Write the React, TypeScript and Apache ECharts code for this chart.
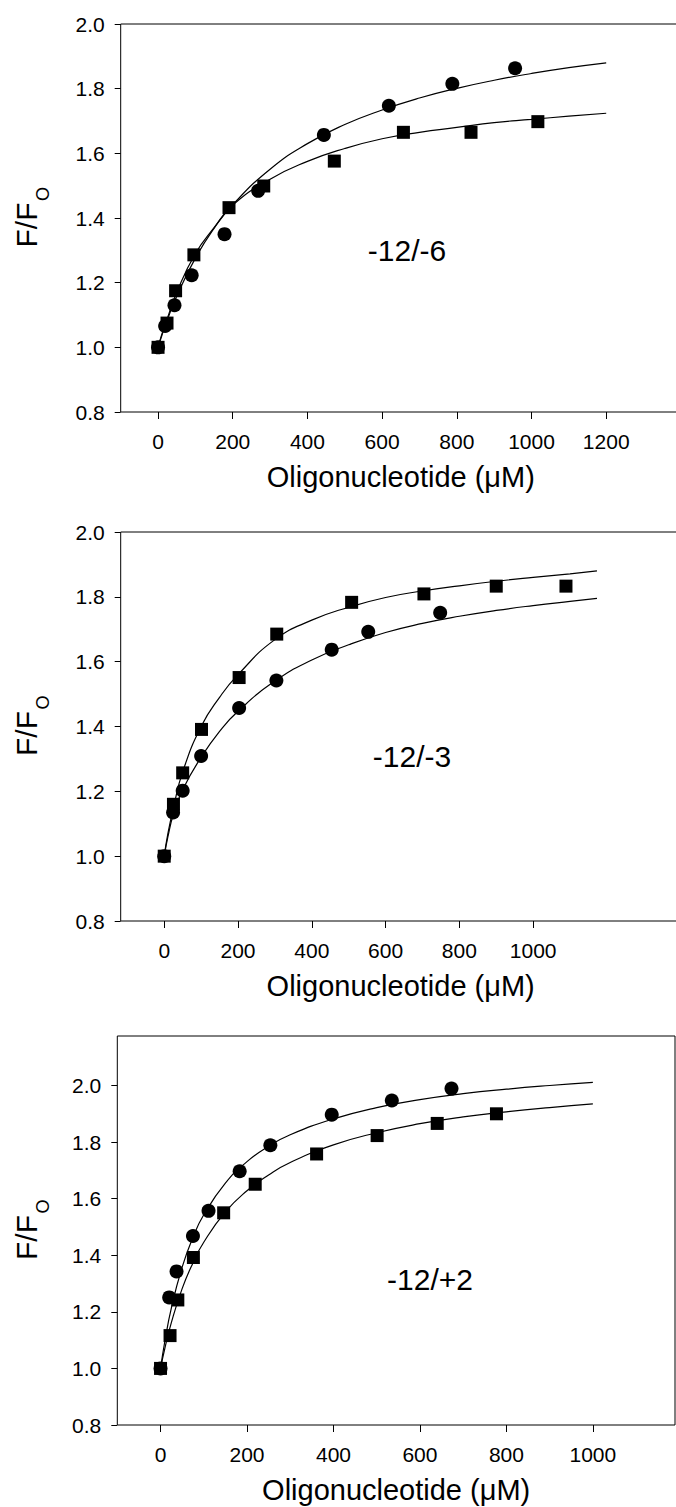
import React, { useEffect, useRef } from "react";
import * as echarts from "echarts";

// ---------- Panel 1 (-12/-6) ----------
const p1CircleX = [0, 19, 44, 90, 178, 268, 444, 618, 788, 956];
const p1CircleY = [1.0, 1.066, 1.13, 1.223, 1.35, 1.484, 1.657, 1.747, 1.815, 1.863];
const p1SquareX = [0, 24, 47, 96, 190, 283, 472, 657, 838, 1017];
const p1SquareY = [1.0, 1.075, 1.175, 1.286, 1.432, 1.499, 1.576, 1.665, 1.665, 1.698];
const p1FitX = [0, 10, 25, 50, 100, 150, 200, 300, 400, 500, 600, 700, 800, 900, 1000, 1100, 1200];
const p1CircleFitY = [1.0, 1.036, 1.085, 1.158, 1.276, 1.368, 1.441, 1.551, 1.63, 1.689, 1.734, 1.771, 1.801, 1.826, 1.847, 1.865, 1.88];
const p1SquareFitY = [1.0, 1.04, 1.09, 1.17, 1.29, 1.37, 1.44, 1.52, 1.575, 1.615, 1.645, 1.665, 1.68, 1.695, 1.705, 1.715, 1.724];

// ---------- Panel 2 (-12/-3) ----------
const p2SquareX = [0, 25, 50, 101, 203, 305, 508, 704, 900, 1089];
const p2SquareY = [1.0, 1.16, 1.257, 1.391, 1.551, 1.685, 1.783, 1.809, 1.833, 1.833];
const p2CircleX = [0, 24, 50, 100, 203, 304, 454, 553, 748];
const p2CircleY = [1.0, 1.135, 1.202, 1.309, 1.457, 1.542, 1.637, 1.692, 1.751];
const p2FitX = [0, 10, 25, 50, 100, 150, 200, 300, 400, 500, 600, 700, 800, 900, 1000, 1100, 1173];
const p2SquareFitY = [1.0, 1.07, 1.15, 1.26, 1.4, 1.49, 1.56, 1.668, 1.728, 1.768, 1.798, 1.818, 1.834, 1.848, 1.86, 1.871, 1.88];
const p2CircleFitY = [1.0, 1.06, 1.13, 1.205, 1.305, 1.385, 1.447, 1.54, 1.605, 1.652, 1.69, 1.718, 1.74, 1.758, 1.773, 1.786, 1.795];

// ---------- Panel 3 (-12/+2) ----------
const p3CircleX = [0, 20, 37, 75, 111, 183, 254, 396, 535, 673];
const p3CircleY = [1.0, 1.251, 1.343, 1.468, 1.557, 1.697, 1.789, 1.897, 1.947, 1.989];
const p3SquareX = [0, 22, 40, 76, 146, 219, 361, 501, 640, 777];
const p3SquareY = [1.0, 1.116, 1.242, 1.392, 1.55, 1.651, 1.758, 1.823, 1.866, 1.9];
const p3FitX = [0, 10, 25, 50, 75, 100, 150, 200, 250, 300, 400, 500, 600, 700, 800, 900, 1000];
const p3CircleFitY = [1.0, 1.096, 1.213, 1.358, 1.463, 1.543, 1.655, 1.731, 1.785, 1.826, 1.882, 1.922, 1.95, 1.971, 1.987, 2.0, 2.011];
const p3SquareFitY = [1.0, 1.071, 1.162, 1.282, 1.373, 1.446, 1.553, 1.628, 1.684, 1.728, 1.79, 1.833, 1.865, 1.889, 1.907, 1.922, 1.935];

// ---------- Ticks / labels ----------
const xTicks1 = [0, 200, 400, 600, 800, 1000, 1200];
const xTicks2 = [0, 200, 400, 600, 800, 1000];
const xTicks3 = [0, 200, 400, 600, 800, 1000];
const yTicks = [0.8, 1.0, 1.2, 1.4, 1.6, 1.8, 2.0];
const panelLabels = ["-12/-6", "-12/-3", "-12/+2"];
const xTitle = "Oligonucleotide (\u03bcM)";

const FONT = "Liberation Sans, Arial, sans-serif";

const zip = (xs: number[], ys: number[]) => xs.map((x, i) => [x, ys[i]]);

export default function App() {
  const ref = useRef<HTMLDivElement>(null);

  useEffect(() => {
    if (!ref.current) return;
    const chart = echarts.init(ref.current, undefined, { renderer: "svg" });

    const grids = [
      { left: 120.7, top: 24, width: 560.2, height: 388 },
      { left: 120.7, top: 532, width: 560, height: 389 },
      { left: 117.3, top: 1036, width: 557.7, height: 389 },
    ].map((g) => ({
      ...g,
      show: true,
      borderColor: "#000",
      borderWidth: 1,
      backgroundColor: "transparent",
      containLabel: false,
    }));

    const xRanges = [
      { min: -100, max: 1400, ticks: xTicks1 },
      { min: -118, max: 1400, ticks: xTicks2 },
      { min: -100, max: 1190, ticks: xTicks3 },
    ];
    const yMax = [2.0, 2.0, 2.175];

    const xAxis = xRanges.map((r, i) => ({
      type: "value",
      gridIndex: i,
      min: r.min,
      max: r.max,
      axisLine: { show: false, onZero: false },
      axisTick: {
        show: true,
        inside: false,
        length: 7,
        lineStyle: { color: "#000", width: 1 },
        customValues: r.ticks,
      },
      axisLabel: {
        show: true,
        customValues: r.ticks,
        color: "#000",
        fontSize: 21,
        fontFamily: FONT,
        margin: 19,
        formatter: (v: number) => String(v),
      },
      splitLine: { show: false },
      name: xTitle,
      nameLocation: "middle",
      nameGap: 50,
      nameTextStyle: { fontSize: 29, fontFamily: FONT, color: "#000" },
    }));

    const yAxis = yMax.map((mx, i) => ({
      type: "value",
      gridIndex: i,
      min: 0.8,
      max: mx,
      axisLine: { show: false, onZero: false },
      axisTick: {
        show: true,
        inside: false,
        length: 6,
        lineStyle: { color: "#000", width: 1 },
        customValues: yTicks,
      },
      axisLabel: {
        show: true,
        customValues: yTicks,
        color: "#000",
        fontSize: 21,
        fontFamily: FONT,
        margin: 16,
        formatter: (v: number) => v.toFixed(1),
      },
      splitLine: { show: false },
    }));

    const panels = [
      { cx: p1CircleX, cy: p1CircleY, sx: p1SquareX, sy: p1SquareY, fx: p1FitX, fc: p1CircleFitY, fs: p1SquareFitY },
      { cx: p2CircleX, cy: p2CircleY, sx: p2SquareX, sy: p2SquareY, fx: p2FitX, fc: p2CircleFitY, fs: p2SquareFitY },
      { cx: p3CircleX, cy: p3CircleY, sx: p3SquareX, sy: p3SquareY, fx: p3FitX, fc: p3CircleFitY, fs: p3SquareFitY },
    ];

    const series: any[] = [];
    panels.forEach((p, i) => {
      const lineBase = {
        type: "line",
        xAxisIndex: i,
        yAxisIndex: i,
        showSymbol: false,
        smooth: 0.5,
        silent: true,
        lineStyle: { color: "#000", width: 1.2 },
        z: 2,
      };
      series.push({ ...lineBase, data: zip(p.fx, p.fc) });
      series.push({ ...lineBase, data: zip(p.fx, p.fs) });
      series.push({
        type: "scatter",
        xAxisIndex: i,
        yAxisIndex: i,
        symbol: "circle",
        symbolSize: 14,
        itemStyle: { color: "#000", opacity: 1 },
        data: zip(p.cx, p.cy),
        z: 3,
      });
      series.push({
        type: "scatter",
        xAxisIndex: i,
        yAxisIndex: i,
        symbol: "rect",
        symbolSize: 13,
        itemStyle: { color: "#000", opacity: 1 },
        data: zip(p.sx, p.sy),
        z: 4,
      });
    });

    const centersY = [218, 726.5, 1230.5];
    const labelPos = [
      [407, 250],
      [412, 756],
      [430, 1279],
    ];
    const graphic: any[] = [];
    centersY.forEach((cy) => {
      graphic.push({
        type: "text",
        x: 26,
        y: cy + 7,
        rotation: Math.PI / 2,
        style: {
          text: "F/F",
          fontSize: 30,
          fontFamily: FONT,
          fill: "#000",
          textAlign: "center",
          textVerticalAlign: "middle",
        },
      });
      graphic.push({
        type: "text",
        x: 43,
        y: cy - 24,
        rotation: Math.PI / 2,
        style: {
          text: "O",
          fontSize: 18,
          fontFamily: FONT,
          fill: "#000",
          textAlign: "center",
          textVerticalAlign: "middle",
        },
      });
    });
    labelPos.forEach((pos, i) => {
      graphic.push({
        type: "text",
        x: pos[0],
        y: pos[1],
        style: {
          text: panelLabels[i],
          fontSize: 30,
          fontFamily: FONT,
          fill: "#000",
          textAlign: "center",
          textVerticalAlign: "middle",
        },
      });
    });

    chart.setOption({
      animation: false,
      backgroundColor: "#fff",
      grid: grids,
      xAxis,
      yAxis,
      series,
      graphic,
    });

    return () => chart.dispose();
  }, []);

  return (
    <div
      style={{
        position: "fixed",
        left: 0,
        top: 0,
        width: 676,
        height: 1507,
        overflow: "hidden",
        background: "#fff",
      }}
    >
      <div ref={ref} style={{ width: 700, height: 1507 }} />
    </div>
  );
}
